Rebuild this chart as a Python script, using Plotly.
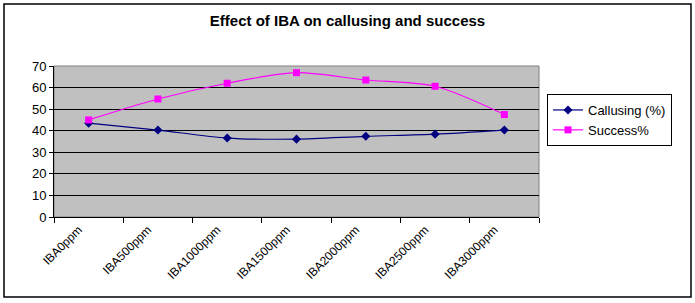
import plotly.graph_objects as go

categories = ["IBA0ppm", "IBA500ppm", "IBA1000ppm", "IBA1500ppm", "IBA2000ppm", "IBA2500ppm", "IBA3000ppm"]
callusing = [43.5, 40.3, 36.6, 36.1, 37.4, 38.4, 40.3]
success = [45.0, 54.7, 62.0, 66.9, 63.5, 60.6, 47.5]
y_ticks = [0, 10, 20, 30, 40, 50, 60, 70]

W, H = 695, 303
L, R, T, B = 54, 156, 66, 86
pw, ph = W - L - R, H - T - B

fig = go.Figure()
fig.add_trace(go.Scatter(
    x=categories, y=callusing, name="Callusing (%)", mode="lines+markers",
    line=dict(color="#000080", width=1.2, shape="spline", smoothing=0.8),
    marker=dict(symbol="diamond", size=7, color="#000080"),
))
fig.add_trace(go.Scatter(
    x=categories, y=success, name="Success%", mode="lines+markers",
    line=dict(color="#FF00FF", width=1.2, shape="spline", smoothing=0.8),
    marker=dict(symbol="square", size=7, color="#FF00FF"),
))

def px2paper_x(p):
    return (p - L) / pw

def px2paper_y(p):
    return (H - B - p) / ph

fig.update_layout(
    width=W, height=H,
    margin=dict(l=L, r=R, t=T, b=B, autoexpand=False),
    paper_bgcolor="white",
    plot_bgcolor="#C0C0C0",
    font=dict(family="Arial, Liberation Sans, sans-serif", size=12, color="black"),
    title=dict(text="<b>Effect of IBA on callusing and success</b>", x=0.5, xanchor="center",
               y=1 - 21 / H, yanchor="middle", font=dict(size=15)),
    showlegend=True,
    legend=dict(x=px2paper_x(547), y=px2paper_y(94), xanchor="left", yanchor="top",
                bordercolor="black", borderwidth=1, bgcolor="white",
                font=dict(size=13), tracegroupgap=0, itemwidth=30),
    xaxis=dict(
        type="category", tickangle=-45, showgrid=False, showline=True, linecolor="black",
        linewidth=1, ticks="outside", ticklen=5, tickcolor="black", tickson="boundaries",
        range=[-0.5, 6.5], tickfont=dict(size=12), zeroline=False, automargin=False,
        ticklabelshift=-10,
    ),
    yaxis=dict(
        range=[0, 70], tickvals=y_ticks, showgrid=True, gridcolor="black", gridwidth=1,
        showline=True, linecolor="black", linewidth=1, ticks="outside", ticklen=4,
        tickcolor="black", zeroline=False, tickfont=dict(size=13), automargin=False,
    ),
    shapes=[
        dict(type="rect", xref="paper", yref="paper", x0=0, x1=1, y0=0, y1=1,
             line=dict(color="#808080", width=1), layer="below"),
        dict(type="rect", xref="paper", yref="paper",
             x0=px2paper_x(4), x1=px2paper_x(691), y0=px2paper_y(297), y1=px2paper_y(4),
             line=dict(color="black", width=1.5)),
    ],
)

fig.write_html("out.html", config={"displayModeBar": False},
               post_script="document.body.style.margin='0';document.body.style.overflow='hidden';")
